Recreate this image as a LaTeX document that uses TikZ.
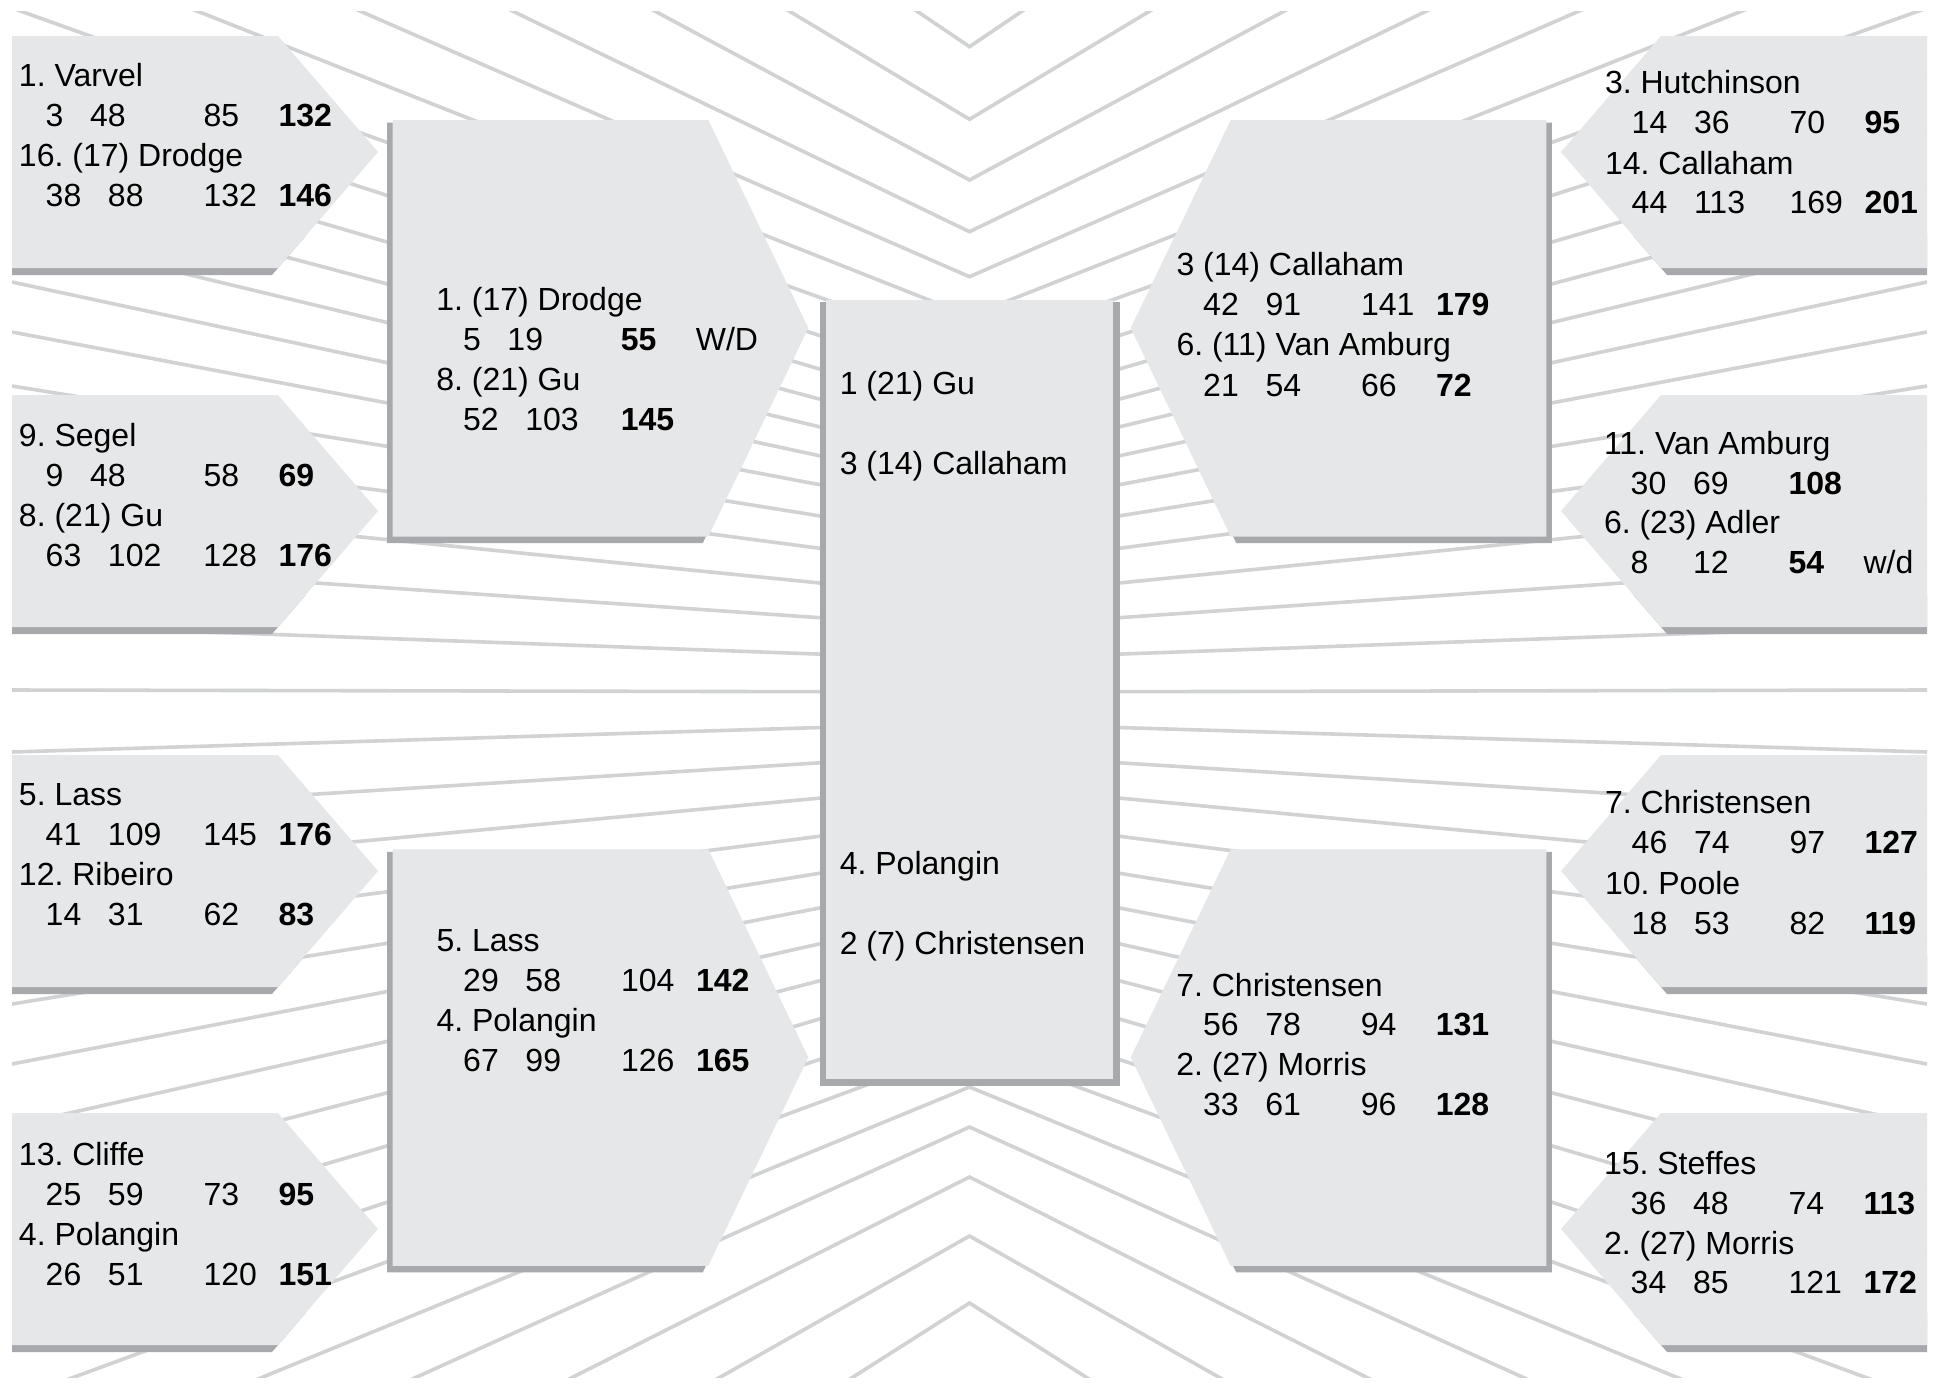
\documentclass[tikz,border=0pt]{standalone}
\usepackage{fontspec}
\setmainfont{Liberation Sans}
\frenchspacing
\definecolor{boxc}{RGB}{230,231,232}
\definecolor{shadc}{RGB}{167,169,172}
\definecolor{rayc}{RGB}{209,210,212}
\newcommand\gp{\hspace*{0.6675cm}}
\newcommand\bxfont{\fontsize{22.76pt}{27pt}\selectfont\frenchspacing}
\newcommand\nm[4]{\node[txt] (#1) at (#2,#3) {#4};}
\newcommand\nr[7]{\node[txt] (#1) at (#2,#3) {\makebox[4.6125cm][l]{\gp #4\gp #5}\makebox[1.875cm][l]{#6}#7};}
\newcommand\lbox[1]{%
 \fill[shadc] (12,#1+200) -- (305.6,#1+200) -- (272,#1+239) -- (12,#1+239) -- cycle;
 \fill[boxc] (12,#1) -- (278,#1) -- (378,#1+116) -- (278,#1+232) -- (12,#1+232) -- cycle;}
\newcommand\rbox[1]{%
 \fill[shadc] (1927,#1+200) -- (1633.4,#1+200) -- (1667,#1+239) -- (1927,#1+239) -- cycle;
 \fill[boxc] (1927,#1) -- (1661,#1) -- (1561,#1+116) -- (1661,#1+232) -- (1927,#1+232) -- cycle;}
\newcommand\lmid[1]{%
 \fill[shadc] (387.2,#1+2.5) -- (702.8,#1+2.5) -- (802.8,#1+214.5) -- (702.8,#1+423) -- (387.2,#1+423) -- cycle;
 \fill[boxc] (392.7,#1) -- (708.3,#1) -- (808.3,#1+208) -- (708.3,#1+416.5) -- (392.7,#1+416.5) -- cycle;}
\newcommand\rmid[1]{%
 \fill[shadc] (1551.8,#1+2.5) -- (1236.2,#1+2.5) -- (1136.2,#1+214.5) -- (1236.2,#1+423) -- (1551.8,#1+423) -- cycle;
 \fill[boxc] (1546.3,#1) -- (1230.7,#1) -- (1130.7,#1+208) -- (1230.7,#1+416.5) -- (1546.3,#1+416.5) -- cycle;}
\begin{document}
\begin{tikzpicture}[x=0.025cm,y=-0.025cm,
  txt/.style={anchor=base west,inner sep=0pt,outer sep=0pt,font=\bxfont},
  ray/.style={draw=rayc,line width=0.09cm,line join=miter}]
\useasboundingbox[fill=white] (0,0) rectangle (1944,1388);
% background rays
\begin{scope}
\clip (12,11) rectangle (1927,1377);
\foreach \a in {46.7,119.3,180,231.7,276.7,316,351,384,413,439,463,488,513,540,568,598,628,659.5,692,723,753.5,784,817,849,879,910,942,975,1010,1047,1087,1127,1177,1236,1303}
  \draw[ray] (12,2*\a-694) -- (969.5,\a) -- (1927,2*\a-694);
\end{scope}
% boxes
\lbox{36}\lbox{395}\lbox{755}\lbox{1113}
\rbox{36}\rbox{395}\rbox{755}\rbox{1113}
\lmid{120}\lmid{849.3}
\rmid{120}\rmid{849.3}
\fill[shadc] (819.5,301.7) rectangle (1119.5,1086);
\fill[boxc] (826,300) rectangle (1113,1079.3);
% left outer
\nm{l1a}{19}{86}{1. Varvel}
\nr{l1b}{19}{126}{3}{48}{85}{\textbf{132}}
\nm{l1c}{19}{166}{16. (17) Drodge}
\nr{l1d}{19}{206}{38}{88}{132}{\textbf{146}}
\nm{l2a}{19}{446}{9. Segel}
\nr{l2b}{19}{486}{9}{48}{58}{\textbf{69}}
\nm{l2c}{19}{526}{8. (21) Gu}
\nr{l2d}{19}{566}{63}{102}{128}{\textbf{176}}
\nm{l3a}{19}{805}{5. Lass}
\nr{l3b}{19}{845}{41}{109}{145}{\textbf{176}}
\nm{l3c}{19}{885}{12. Ribeiro}
\nr{l3d}{19}{925}{14}{31}{62}{\textbf{83}}
\nm{l4a}{19}{1165}{13. Cliffe}
\nr{l4b}{19}{1205}{25}{59}{73}{\textbf{95}}
\nm{l4c}{19}{1245}{4. Polangin}
\nr{l4d}{19}{1285}{26}{51}{120}{\textbf{151}}
% left middle
\nm{maa}{436.3}{310.7}{1. (17) Drodge}
\nr{mab}{436.3}{350.5}{5}{19}{\textbf{55}}{W/D}
\nm{mac}{436.3}{390.3}{8. (21) Gu}
\nr{mad}{436.3}{430}{52}{103}{\textbf{145}}{}
\nm{mba}{436.5}{951.5}{5. Lass}
\nr{mbb}{436.5}{991.3}{29}{58}{104}{\textbf{142}}
\nm{mbc}{436.5}{1031}{4. Polangin}
\nr{mbd}{436.5}{1071}{67}{99}{126}{\textbf{165}}
% centre
\nm{ca}{839.8}{394}{1 (21) Gu}
\nm{cb}{839.8}{474.6}{3 (14) Callaham}
\nm{cc}{839.8}{874.7}{4. Polangin}
\nm{cd}{839.8}{954.7}{2 (7) Christensen}
% right middle
\nm{mca}{1176.5}{275.8}{3 (14) Callaham}
\nr{mcb}{1176.5}{315.5}{42}{91}{141}{\textbf{179}}
\nm{mcc}{1176.5}{355.2}{6. (11) Van Amburg}
\nr{mcd}{1176.5}{396}{21}{54}{66}{\textbf{72}}
\nm{mda}{1176.3}{996}{7. Christensen}
\nr{mdb}{1176.3}{1035.8}{56}{78}{94}{\textbf{131}}
\nm{mdc}{1176.3}{1075.5}{2. (27) Morris}
\nr{mdd}{1176.3}{1115.2}{33}{61}{96}{\textbf{128}}
% right outer
\nm{r1a}{1605}{93.5}{3. Hutchinson}
\nr{r1b}{1605}{133.2}{14}{36}{70}{\textbf{95}}
\nm{r1c}{1605}{174}{14. Callaham}
\nr{r1d}{1605}{213.5}{44}{113}{169}{\textbf{201}}
\nm{r2a}{1604}{454.5}{11. Van Amburg}
\nr{r2b}{1604}{494}{30}{69}{\textbf{108}}{}
\nm{r2c}{1604}{533.5}{6. (23) Adler}
\nr{r2d}{1604}{573.5}{\makebox[0.89cm][l]{8}}{12}{\textbf{54}}{w/d}
\nm{r3a}{1605}{813.5}{7. Christensen}
\nr{r3b}{1605}{853.5}{46}{74}{97}{\textbf{127}}
\nm{r3c}{1605}{894.5}{10. Poole}
\nr{r3d}{1605}{934}{18}{53}{82}{\textbf{119}}
\nm{r4a}{1604}{1174.5}{15. Steffes}
\nr{r4b}{1604}{1214.5}{36}{48}{74}{\textbf{113}}
\nm{r4c}{1604}{1254}{2. (27) Morris}
\nr{r4d}{1604}{1293.5}{34}{85}{121}{\textbf{172}}
\end{tikzpicture}
\end{document}
